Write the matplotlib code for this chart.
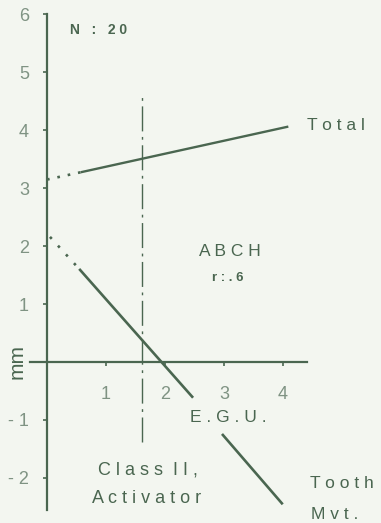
import numpy as np
import matplotlib.pyplot as plt

plt.rcParams['font.family'] = ['Liberation Sans', 'DejaVu Sans']

# values (E.G.U. vs mm)
total_dot_x = [0.0, 0.59]
total_dot_y = [3.15, 3.28]
total_x = [0.59, 4.07]
total_y = [3.28, 4.06]

tooth_dot_x = [0.05, 0.56]
tooth_dot_y = [2.16, 1.59]
tooth_x1 = [0.56, 2.46]
tooth_y1 = [1.59, -0.60]
tooth_x2 = [2.98, 3.98]
tooth_y2 = [-1.26, -2.44]

split_x = 1.61
split_y = [-1.38, 4.61]

yticks = [-2, -1, 1, 2, 3, 4, 5, 6]
ytick_labels = ['- 2', '- 1', '1', '2', '3', '4', '5', '6']
xticks = [1, 2, 3, 4]
xtick_labels = ['1', '2', '3', '4']

ink = '#4a6650'
light = '#7f9383'
bg = '#f3f6f0'

fig = plt.figure(figsize=(3.81, 5.23), dpi=100, facecolor=bg)
ax = fig.add_axes([0, 0, 1, 1], facecolor=bg)
ax.set_xlim(-0.797, 5.66)
ax.set_ylim(-2.78, 6.25)

for s in ['top', 'right']:
    ax.spines[s].set_visible(False)
ax.spines['left'].set_position(('data', 0))
ax.spines['bottom'].set_position(('data', 0))
ax.spines['left'].set_bounds(-2.55, 6.0)
ax.spines['bottom'].set_bounds(-0.29, 4.41)
for s in ['left', 'bottom']:
    ax.spines[s].set_color(ink)
    ax.spines[s].set_linewidth(1.6)

ax.set_yticks(yticks)
ax.set_yticklabels(ytick_labels)
ax.set_xticks(xticks)
ax.set_xticklabels(xtick_labels)
ax.tick_params(axis='y', direction='out', length=3, width=1.2, color=ink,
               labelcolor=light, labelsize=13, pad=10)
ax.tick_params(axis='x', direction='out', length=3, width=1.2, color=ink,
               labelcolor=light, labelsize=13, pad=14)

# lines
ax.plot(total_dot_x, total_dot_y, color=ink, lw=1.9, ls=(0, (1, 3)))
ax.plot(total_x, total_y, color=ink, lw=1.7)
ax.plot(tooth_dot_x, tooth_dot_y, color=ink, lw=1.9, ls=(0, (1, 3.5)))
ax.plot(tooth_x1, tooth_y1, color=ink, lw=1.9)
ax.plot(tooth_x2, tooth_y2, color=ink, lw=1.9)
ax.plot([split_x, split_x], split_y, color=ink, lw=1.0, ls=(0, (18, 4, 2, 4)))

# labels
ax.text(0.39, 5.73, 'N   :   2 0', color=ink, fontsize=10, fontweight='bold', va='center', ha='left')
ax.text(4.41, 4.09, 'T o t a l', color=ink, fontsize=12.5, va='center', ha='left')
ax.text(3.10, 1.90, 'A B C H', color=ink, fontsize=12.5, va='center', ha='center')
ax.text(3.07, 1.45, 'r : . 6', color=ink, fontsize=9.5, fontweight='bold', va='center', ha='center')
ax.text(2.42, -0.95, 'E . G . U .', color=ink, fontsize=12.5, va='center', ha='left')
ax.text(1.71, -1.87, 'C l a s s  I I ,', color=ink, fontsize=13, va='center', ha='center')
ax.text(1.69, -2.35, 'A c t i v a t o r', color=ink, fontsize=13, va='center', ha='center')
ax.text(4.46, -2.09, 'T o o t h', color=ink, fontsize=12.5, va='center', ha='left')
ax.text(4.47, -2.64, 'M v t .', color=ink, fontsize=12.5, va='center', ha='left')
ax.text(-0.50, 0.0, 'mm', color=ink, fontsize=15, rotation=90, va='center', ha='center')

fig.savefig('out.png', dpi=100, facecolor=bg)
